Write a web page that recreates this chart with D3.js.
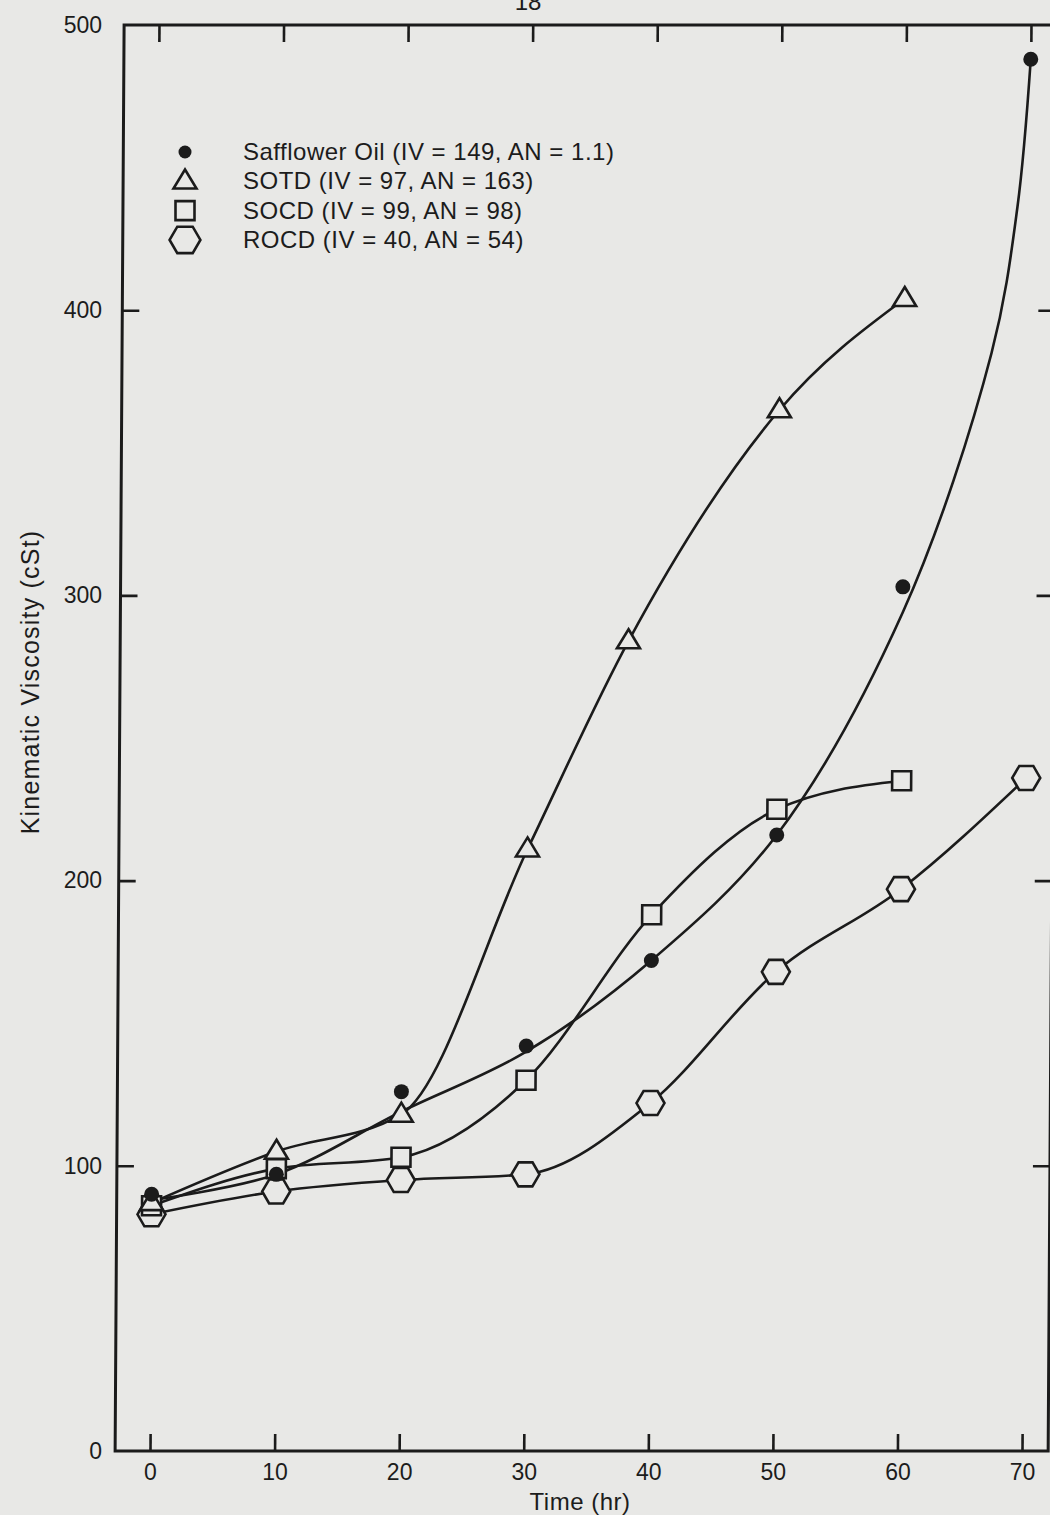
<!DOCTYPE html>
<html>
<head>
<meta charset="utf-8">
<script src="https://cdn.jsdelivr.net/npm/d3@7"></script>
<style>
  html, body { margin: 0; padding: 0; background: #e8e8e6; }
  svg { display: block; }
  text { font-family: "Liberation Sans", Arial, Helvetica, sans-serif; fill: #1c1c1c; }
</style>
</head>
<body>
<div id="chart"></div>
<script>
// ---------------- data ----------------
const xTicks = [0, 10, 20, 30, 40, 50, 60, 70];
const yTicks = [0, 100, 200, 300, 400, 500];

const safflowerTime = [0, 10, 20, 30, 40, 50, 60, 70];
const safflowerVisc = [90, 97, 126, 142, 172, 216, 303, 488];
// smooth fitted curve drawn for safflower oil (passes near, not through, the dots)
const safflowerFitTime = [0, 10, 20, 30, 40, 50, 60, 67, 69, 70];
const safflowerFitVisc = [88, 97, 119, 140, 172, 216, 294, 385, 436, 488];

const sotdTime = [0, 10, 20, 30, 38, 50, 60];
const sotdVisc = [87, 105, 118, 211, 284, 365, 404];

const socdTime = [0, 10, 20, 30, 40, 50, 60];
const socdVisc = [86, 99, 103, 130, 188, 225, 235];

const rocdTime = [0, 10, 20, 30, 40, 50, 60, 70];
const rocdVisc = [83, 91, 95, 97, 122, 168, 197, 236];

const legendLabels = [
  "Safflower Oil (IV = 149, AN = 1.1)",
  "SOTD (IV = 97, AN = 163)",
  "SOCD (IV = 99, AN = 98)",
  "ROCD (IV = 40, AN = 54)"
];
const legendShapes = ["dot", "triangle", "square", "hexagon"];
const xTitle = "Time (hr)";
const yTitle = "Kinematic Viscosity (cSt)";
const pageNumber = "18";

// ---------------- layout ----------------
const W = 1050, H = 1515;
const ink = "#1b1b1b";
const paper = "#e8e8e6";
const x = d3.scaleLinear().domain([0, 70]).range([150, 1022]);
const y = d3.scaleLinear().domain([0, 500]).range([1451, 25]);
const xLo = -2.8, xHi = 72.1;
const skew = 0.0063; // the scanned frame leans slightly to the right at the top

const svg = d3.select("#chart").append("svg")
  .attr("width", W).attr("height", H);

svg.append("rect").attr("width", W).attr("height", H).attr("fill", paper);

// page number, cut by the top edge as in the scan
svg.append("text").attr("x", 528).attr("y", 10)
  .attr("text-anchor", "middle").attr("font-size", 24).text(pageNumber);

const plot = svg.append("g")
  .attr("transform", `matrix(1,0,${-skew},1,${skew * y(0)},0)`);

// frame
plot.append("rect")
  .attr("x", x(xLo)).attr("y", y(500))
  .attr("width", x(xHi) - x(xLo)).attr("height", y(0) - y(500))
  .attr("fill", "none").attr("stroke", ink).attr("stroke-width", 3);

// inward ticks on all four sides
function styleTicks(g) {
  g.select(".domain").remove();
  g.selectAll(".tick line").attr("stroke", ink).attr("stroke-width", 2.6);
  g.selectAll(".tick text").remove();
}
plot.append("g").attr("transform", `translate(0,${y(0)})`)
  .call(d3.axisBottom(x).tickValues(xTicks).tickSize(-17).tickSizeOuter(0)).call(styleTicks);
plot.append("g").attr("transform", `translate(0,${y(500)})`)
  .call(d3.axisTop(x).tickValues(xTicks).tickSize(-17).tickSizeOuter(0)).call(styleTicks);
plot.append("g").attr("transform", `translate(${x(xLo)},0)`)
  .call(d3.axisLeft(y).tickValues(yTicks.slice(1, 5)).tickSize(-17).tickSizeOuter(0)).call(styleTicks);
plot.append("g").attr("transform", `translate(${x(xHi)},0)`)
  .call(d3.axisRight(y).tickValues(yTicks.slice(1, 5)).tickSize(-17).tickSizeOuter(0)).call(styleTicks);

// ---------------- curves ----------------
const zip = (a, b) => a.map((v, i) => [v, b[i]]);
const lineMono = d3.line().x(d => x(d[0])).y(d => y(d[1])).curve(d3.curveMonotoneX);
const lineSmooth = d3.line().x(d => x(d[0])).y(d => y(d[1])).curve(d3.curveCatmullRom.alpha(0.5));

const curves = [
  { pts: zip(safflowerFitTime, safflowerFitVisc), gen: lineSmooth },
  { pts: zip(sotdTime, sotdVisc), gen: lineMono },
  { pts: zip(socdTime, socdVisc), gen: lineMono },
  { pts: zip(rocdTime, rocdVisc), gen: lineMono }
];
plot.selectAll("path.curve").data(curves).join("path")
  .attr("class", "curve")
  .attr("d", d => d.gen(d.pts))
  .attr("fill", "none").attr("stroke", ink).attr("stroke-width", 2.6);

// ---------------- markers ----------------
function shapePath(kind, s = 1) {
  if (kind === "triangle") {
    const w = 23 * s, h = 19 * s;
    return d3.line()([[0, -h * 0.62], [w / 2, h * 0.38], [-w / 2, h * 0.38]]) + "Z";
  }
  if (kind === "square") {
    const q = 19 * s;
    return d3.line()([[-q / 2, -q / 2], [q / 2, -q / 2], [q / 2, q / 2], [-q / 2, q / 2]]) + "Z";
  }
  if (kind === "hexagon") {
    const r = 14 * s, h = 12 * s;
    return d3.line()([[-r, 0], [-r / 2, -h], [r / 2, -h], [r, 0], [r / 2, h], [-r / 2, h]]) + "Z";
  }
  return null;
}

function drawMarkers(g, kind, times, vals) {
  const pts = zip(times, vals);
  if (kind === "dot") {
    g.selectAll(null).data(pts).join("circle")
      .attr("cx", d => x(d[0])).attr("cy", d => y(d[1])).attr("r", 7.5)
      .attr("fill", ink);
  } else {
    g.selectAll(null).data(pts).join("path")
      .attr("transform", d => `translate(${x(d[0])},${y(d[1])})`)
      .attr("d", shapePath(kind))
      .attr("fill", paper).attr("stroke", ink).attr("stroke-width", 2.6)
      .attr("stroke-linejoin", "miter");
  }
}
drawMarkers(plot.append("g"), "hexagon", rocdTime, rocdVisc);
drawMarkers(plot.append("g"), "square", socdTime, socdVisc);
drawMarkers(plot.append("g"), "triangle", sotdTime, sotdVisc);
drawMarkers(plot.append("g"), "dot", safflowerTime, safflowerVisc);

// ---------------- tick labels ----------------
const xLab = svg.append("g").attr("transform", `translate(0,${y(0)})`)
  .call(d3.axisBottom(x).tickValues(xTicks).tickSize(0).tickPadding(13));
xLab.select(".domain").remove();
xLab.selectAll("text").attr("font-size", 23).attr("font-family", null).attr("fill", ink);

const yLab = svg.append("g").attr("transform", `translate(104,0)`)
  .call(d3.axisLeft(y).tickValues(yTicks).tickSize(0).tickPadding(2));
yLab.select(".domain").remove();
yLab.selectAll("text").attr("font-size", 23).attr("font-family", null).attr("fill", ink);

// axis titles
svg.append("text").attr("x", 580).attr("y", 1510).attr("text-anchor", "middle")
  .attr("font-size", 24).attr("letter-spacing", 0.5).text(xTitle);
svg.append("text").attr("transform", "translate(39,682) rotate(-90)")
  .attr("text-anchor", "middle").attr("font-size", 25).attr("letter-spacing", 1.2).text(yTitle);

// ---------------- legend ----------------
const legend = svg.append("g");
legendLabels.forEach((lab, i) => {
  const cy = 152 + i * 29.3;
  const kind = legendShapes[i];
  if (kind === "dot") {
    legend.append("circle").attr("cx", 185).attr("cy", cy).attr("r", 6.5).attr("fill", ink);
  } else {
    legend.append("path").attr("transform", `translate(185,${cy})`)
      .attr("d", shapePath(kind, kind === "hexagon" ? 1.1 : 1)).attr("fill", "none")
      .attr("stroke", ink).attr("stroke-width", 2.6);
  }
  legend.append("text").attr("x", 243).attr("y", cy + 8)
    .attr("font-size", 24).attr("letter-spacing", 0.5).text(lab);
});
</script>
</body>
</html>
